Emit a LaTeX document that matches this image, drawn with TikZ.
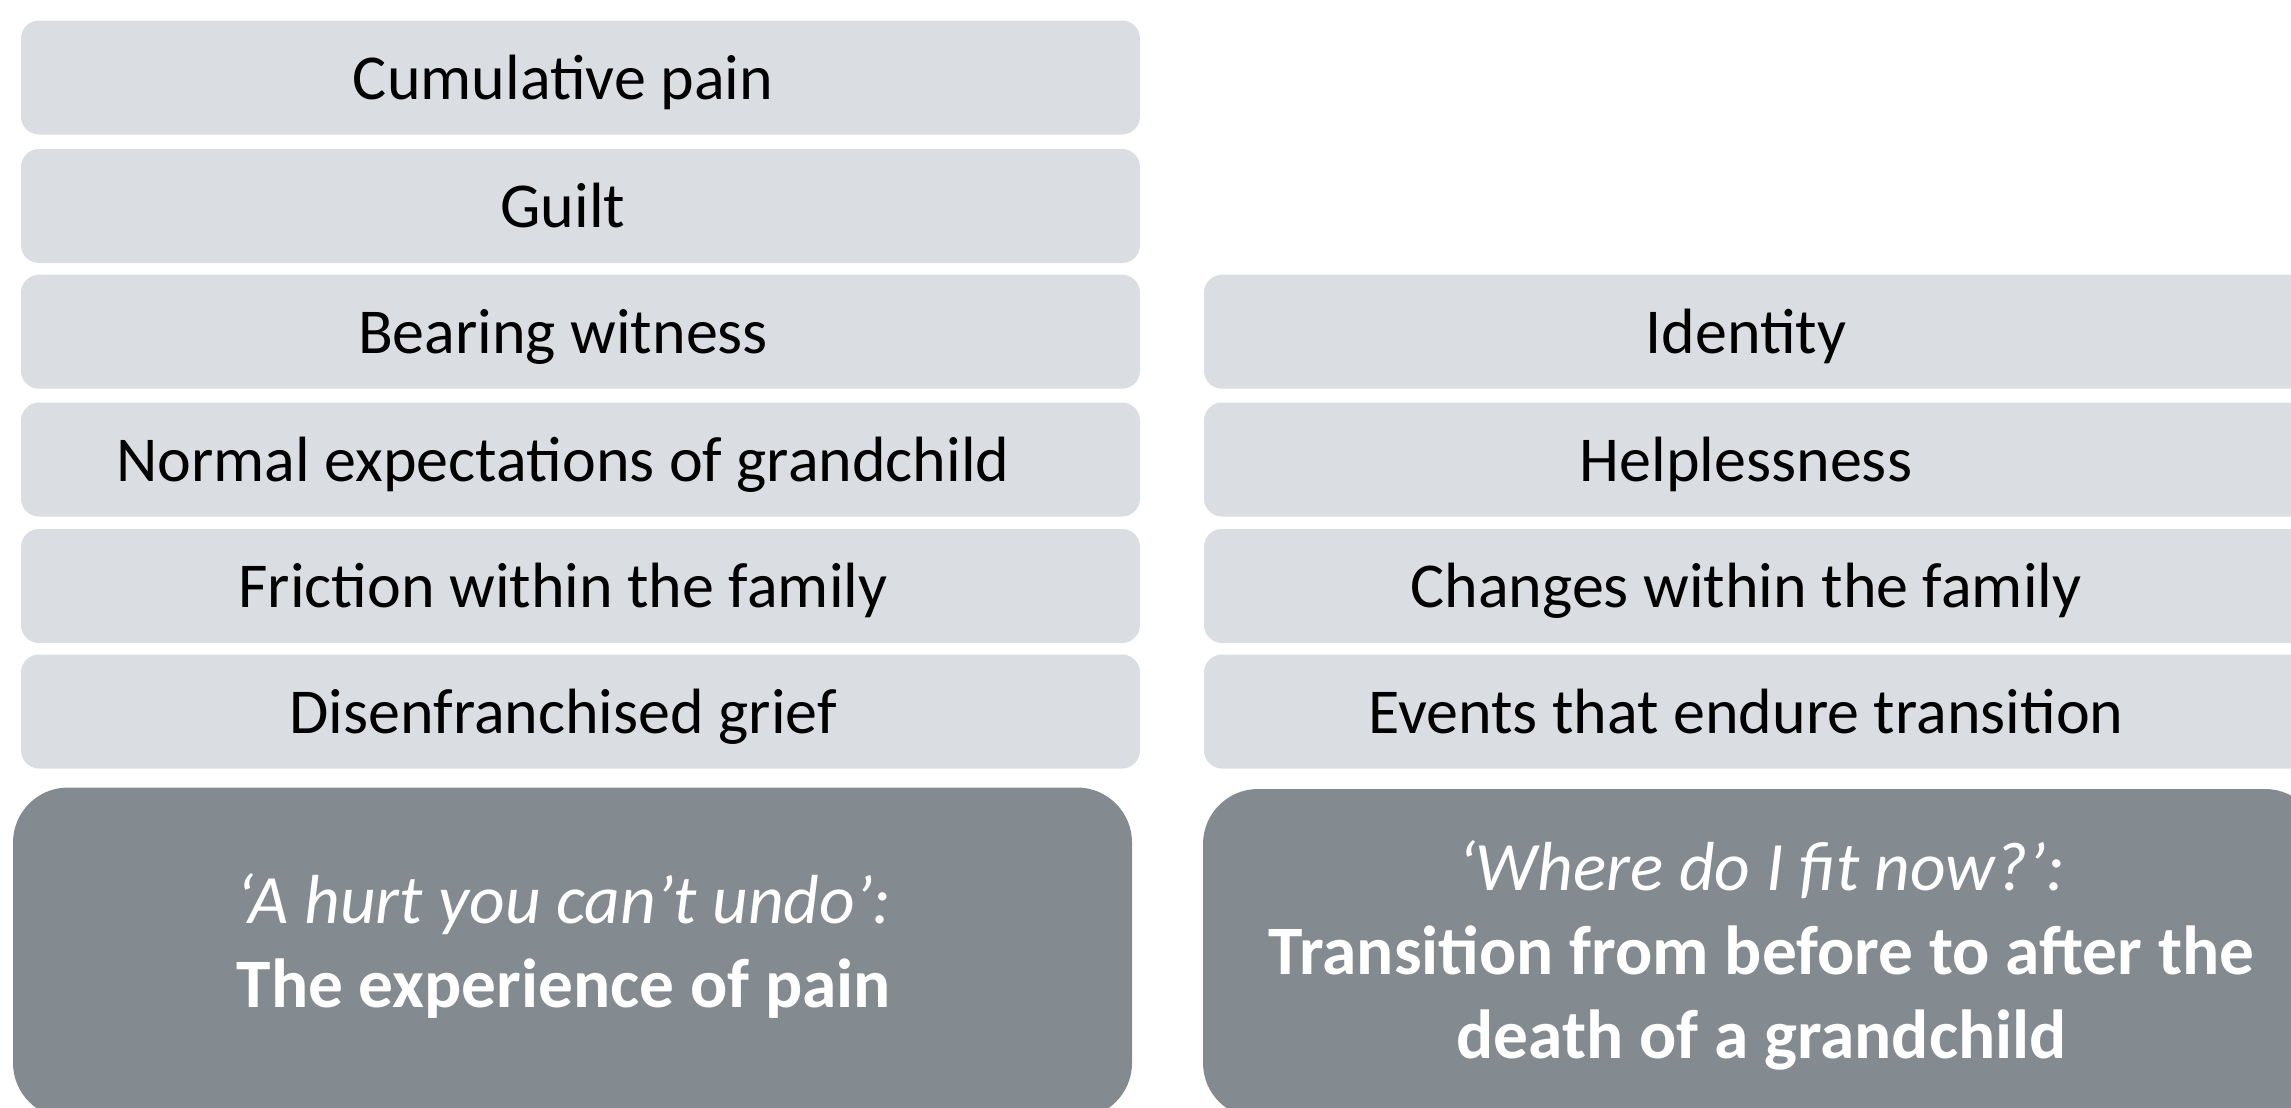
\documentclass[tikz,border=0pt]{standalone}
\usepackage{fontspec}
\setmainfont{Carlito}
\definecolor{boxgrey}{RGB}{218,221,226}
\definecolor{slategrey}{RGB}{132,139,144}
\tikzset{every picture/.style={line width=0.75pt}}
\tikzset{
  lightbox/.style={fill=boxgrey, rounded corners=9pt, inner sep=0pt, minimum height=57pt},
  darkbox/.style={fill=slategrey, rounded corners=27.5pt, inner sep=0pt},
  boxtext/.style={font=\fontsize{32}{38}\selectfont, text=black, inner sep=0pt, anchor=base},
  headtext/.style={font=\fontsize{34.7}{42}\selectfont, text=white, align=center, inner sep=0pt}
}

\begin{document}
\begin{tikzpicture}[x=0.5pt,y=0.5pt,yscale=-1,xscale=1]
%set diagram area: 2291 x 1108
\clip (0,0) rectangle (2291,1108);

%Left column boxes
\node[lightbox, minimum width=559.5pt] (cumbox) at (580.5,77.5) {};
\node[lightbox, minimum width=559.5pt] (guiltbox) at (580.5,206) {};
\node[lightbox, minimum width=559.5pt] (witnessbox) at (580.5,331.7) {};
\node[lightbox, minimum width=559.5pt] (normalbox) at (580.5,459.5) {};
\node[lightbox, minimum width=559.5pt] (frictionbox) at (580.5,586) {};
\node[lightbox, minimum width=559.5pt] (disenbox) at (580.5,711.5) {};

%Right column boxes
\node[lightbox, minimum width=553pt] (identitybox) at (1757,331.7) {};
\node[lightbox, minimum width=553pt] (helpbox) at (1757,459.5) {};
\node[lightbox, minimum width=553pt] (changesbox) at (1757,586) {};
\node[lightbox, minimum width=553pt] (eventsbox) at (1757,711.5) {};

%Theme boxes
\node[darkbox, minimum width=559.5pt, minimum height=165.25pt] (painbox) at (572.5,952.75) {};
\node[darkbox, minimum width=558.5pt, minimum height=164.5pt] (fitbox) at (1761.5,953.5) {};

% Text Node
\node[boxtext] (cum) at (563,99) {Cumulative pain};
% Text Node
\node[boxtext] (guilt) at (563,227.5) {Guilt};
% Text Node
\node[boxtext] (witness) at (563,353.2) {Bearing witness};
% Text Node
\node[boxtext] (normal) at (563,481) {Normal expectations of grandchild};
% Text Node
\node[boxtext] (friction) at (563,607.5) {Friction within the family};
% Text Node
\node[boxtext] (disen) at (563,733) {Disenfranchised grief};
% Text Node
\node[boxtext] (identity) at (1746,353.2) {Identity};
% Text Node
\node[boxtext] (help) at (1746,481) {Helplessness};
% Text Node
\node[boxtext] (changes) at (1746,607.5) {Changes within the family};
% Text Node
\node[boxtext] (events) at (1746,733) {Events that endure transition};
% Text Node
\node[headtext] (pain) at (564,945.5) {{\itshape ‘A hurt you can’t undo’:}\\{\bfseries The experience of pain}};
% Text Node
\node[headtext] (fit) at (1761.5,955.5) {{\itshape ‘Where do I fit now?’:}\\{\bfseries Transition from before to after the}\\{\bfseries death of a grandchild}};

\end{tikzpicture}
\end{document}
